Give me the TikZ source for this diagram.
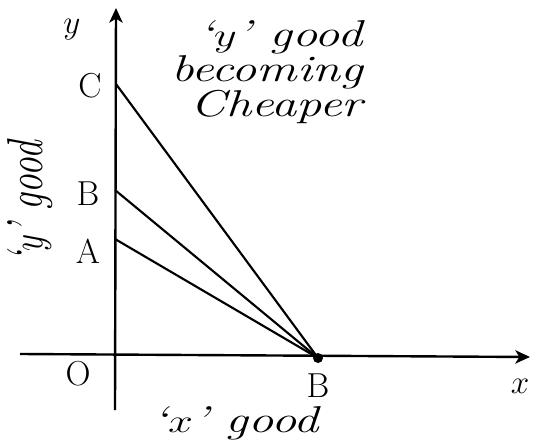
\documentclass[tikz,border=0pt]{standalone}
\usepackage{amsmath, amssymb}
\usetikzlibrary{arrows.meta}
\begin{document}
\begin{tikzpicture}[x=0.75pt, y=-0.75pt, line width=1.6pt,
    lbl/.style={font=\fontsize{26}{28}\selectfont},
    note/.style={font=\itshape\fontsize{28}{21}\selectfont, xscale=1.35, transform shape}]
    \useasboundingbox (0,0) rectangle (547,446);
    % axes
    \coordinate (ybot) at (115,410);
    \coordinate (ytop) at (116,8);
    \coordinate (xleft) at (20,354);
    \coordinate (xright) at (530,357);
    \draw[-{Stealth[length=11pt, width=10pt, inset=3pt]}, line width=1.8pt] (ybot) -- (ytop);
    \draw[-{Stealth[length=11pt, width=10pt, inset=3pt]}, line width=1.8pt] (xleft) -- (xright);
    % intercepts
    \coordinate (C) at (116,84);
    \coordinate (B) at (115,190);
    \coordinate (A) at (115,239);
    \coordinate (Bx) at (318,358);
    \draw (C) -- (Bx);
    \draw (B) -- (Bx);
    \draw (A) -- (Bx);
    \fill (Bx) circle (5);
    % labels
    \node[lbl] (ylab) at (72,30) {$y$};
    \node[lbl] (xlab) at (520,386) {$x$};
    \node[lbl] (Clab) at (90,86) {C};
    \node[lbl] (Blab) at (88,194) {B};
    \node[lbl] (Alab) at (88,251) {A};
    \node[lbl] (Olab) at (78,374) {O};
    \node[lbl] (Bxlab) at (318,386) {B};
    \node[note] (xgood) at (236,423) {`$x$' good};
    \node[note, rotate=90] (ygood) at (30,202) {`$y$' good};
    \node[note, align=right] (cheaper) at (267,72) {`$y$' good\\becoming\\Cheaper};
\end{tikzpicture}
\end{document}
